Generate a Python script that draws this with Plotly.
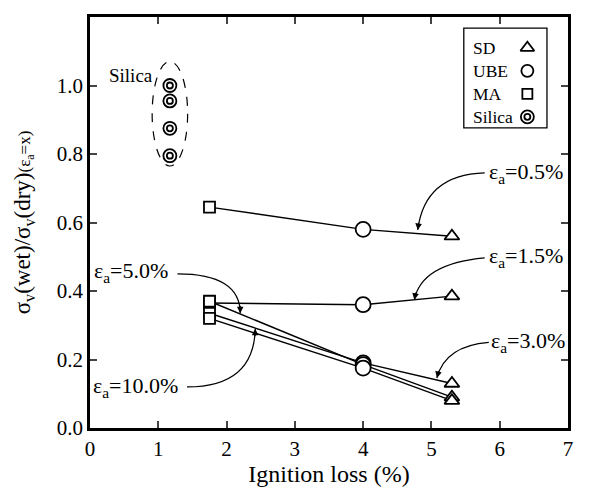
import math
import plotly.graph_objects as go

# ---- data ----
x_silica = 1.17
y_silica = [1.00, 0.955, 0.875, 0.795]
x_ma, x_ube, x_sd = 1.75, 4.0, 5.3
strains = ["0.5%", "1.5%", "3.0%", "5.0%", "10.0%"]
y_ma = [0.645, 0.365, 0.335, 0.37, 0.32]
y_ube = [0.58, 0.36, 0.19, 0.185, 0.175]
y_sd = [0.56, 0.385, 0.13, 0.09, 0.08]
legend_names = ["SD", "UBE", "MA", "Silica"]
x_ticks = [0, 1, 2, 3, 4, 5, 6, 7]
y_ticks = [0.0, 0.2, 0.4, 0.6, 0.8, 1.0, 1.2]

FONT = "Liberation Serif"
W, H = 603, 488
ML, MR, MT, MB = 82, 43, 6, 68
PX = (W - ML - MR) / 7.0
PY = (H - MT - MB) / 1.2

fig = go.Figure()

# connecting lines
for i, s in enumerate(strains):
    fig.add_trace(go.Scatter(x=[x_ma, x_ube, x_sd], y=[y_ma[i], y_ube[i], y_sd[i]],
                             mode="lines", line=dict(color="black", width=1.4),
                             showlegend=False, hoverinfo="skip"))

def add_markers(xs, ys, symbol, size, **kw):
    fig.add_trace(go.Scatter(x=xs, y=ys, mode="markers", showlegend=False, **kw,
                             marker=dict(symbol=symbol, size=size, color="white",
                                         line=dict(color="black", width=1.8))))

add_markers([x_ma] * len(y_ma), y_ma, "square", 11)
add_markers([x_ube] * len(y_ube), y_ube, "circle", 15)
add_markers([x_sd] * len(y_sd), y_sd, "triangle-up", 13)
add_markers([x_silica] * len(y_silica), y_silica, "circle", 13)
add_markers([x_silica] * len(y_silica), y_silica, "circle", 6)

# legend markers on an overlay axis (0..1)
leg_y = [0.925, 0.869, 0.813, 0.757]
leg_x = 0.915
add_markers([leg_x], [leg_y[0]], "triangle-up", 12, xaxis="x2", yaxis="y2")
add_markers([leg_x], [leg_y[1]], "circle", 12, xaxis="x2", yaxis="y2")
add_markers([leg_x], [leg_y[2]], "square", 10, xaxis="x2", yaxis="y2")
add_markers([leg_x], [leg_y[3]], "circle", 13, xaxis="x2", yaxis="y2")
add_markers([leg_x], [leg_y[3]], "circle", 6, xaxis="x2", yaxis="y2")
for name, yy in zip(legend_names, leg_y):
    fig.add_annotation(x=0.797, y=yy, xref="x2", yref="y2", text=name, showarrow=False,
                       xanchor="left", font=dict(family=FONT, size=17.5, color="black"))

shapes = []
# legend box
shapes.append(dict(type="rect", xref="x2", yref="y2", x0=0.782, x1=0.956, y0=0.73, y1=0.973,
                   line=dict(color="black", width=1.3)))
# silica dashed ellipse
shapes.append(dict(type="circle", xref="x", yref="y", x0=x_silica - 0.26, x1=x_silica + 0.26,
                   y0=0.765, y1=1.07, line=dict(color="black", width=1.2, dash="dash")))

# curved arrows: (start, control, tip)
arrows = [
    ((5.78, 0.745), (4.9, 0.74), (4.8, 0.578)),
    ((5.78, 0.497), (4.85, 0.48), (4.75, 0.374)),
    ((5.84, 0.25), (5.2, 0.24), (5.08, 0.146)),
    ((1.28, 0.45), (2.2, 0.45), (2.2, 0.335)),
    ((1.42, 0.12), (2.4, 0.12), (2.42, 0.29)),
]
for (x0, y0), (cx, cy), (x1, y1) in arrows:
    shapes.append(dict(type="path", xref="x", yref="y",
                       path=f"M {x0},{y0} Q {cx},{cy} {x1},{y1}",
                       line=dict(color="black", width=1.2)))
    dx = (cx - x1) * PX
    dy = -(cy - y1) * PY
    n = math.hypot(dx, dy) or 1.0
    fig.add_annotation(x=x1, y=y1, ax=dx / n * 9, ay=dy / n * 9,
                       xref="x", yref="y", text="", showarrow=True,
                       arrowhead=2, arrowsize=1.1, arrowwidth=1.2, arrowcolor="black")

labels = [
    (6.38, 0.745, strains[0]), (6.38, 0.50, strains[1]), (6.42, 0.25, strains[2]),
    (0.6, 0.455, strains[3]), (0.67, 0.12, strains[4]),
]
for lx, ly, s in labels:
    fig.add_annotation(x=lx, y=ly, text=f"ε<sub>a</sub>={s}", showarrow=False,
                       font=dict(family=FONT, size=22, color="black"))
fig.add_annotation(x=0.6, y=1.03, text="Silica", showarrow=False,
                   font=dict(family=FONT, size=19, color="black"))

fig.update_layout(
    width=W, height=H, paper_bgcolor="white", plot_bgcolor="white",
    margin=dict(l=ML, r=MR, t=MT, b=MB), shapes=shapes, showlegend=False,
    font=dict(family=FONT, color="black"),
    xaxis=dict(range=[0, 7], tickvals=x_ticks, ticks="inside", ticklen=7, mirror="ticks",
               showline=True, linecolor="black", linewidth=2.5, tickwidth=1.5, showgrid=False,
               zeroline=False, tickfont=dict(size=21),
               title=dict(text="Ignition loss (%)", font=dict(size=24), standoff=5)),
    yaxis=dict(range=[0, 1.2], tickvals=y_ticks, tickformat=".1f", ticks="inside", ticklen=7,
               mirror="ticks", showline=True, linecolor="black", linewidth=2.5, tickwidth=1.5,
               showgrid=False, zeroline=False, tickfont=dict(size=21),
               title=dict(text="σ<sub>v</sub>(wet)/σ<sub>v</sub>(dry)"
                               "<span style='font-size:17px'>(ε<sub>a</sub>=x)</span>",
                          font=dict(size=23), standoff=20)),
    xaxis2=dict(range=[0, 1], overlaying="x", visible=False, fixedrange=True),
    yaxis2=dict(range=[0, 1], overlaying="y", visible=False, fixedrange=True),
)
fig.write_html("out.html")
